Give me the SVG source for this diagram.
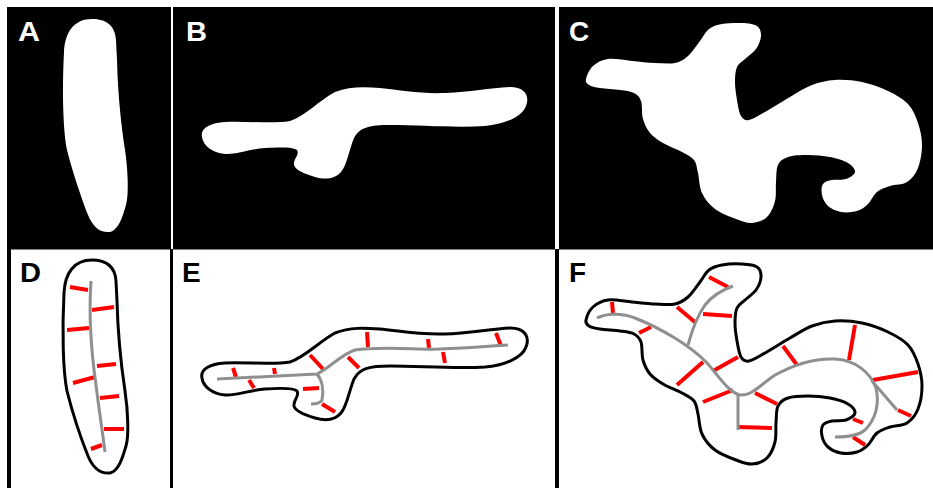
<svg xmlns="http://www.w3.org/2000/svg" xmlns:xlink="http://www.w3.org/1999/xlink" width="933" height="488" viewBox="0 0 933 488">
<style>
.bg{fill:#000}
.lbl{font-family:"Liberation Sans",Arial,sans-serif;font-weight:bold;font-size:28px}
.w{fill:#fff}
.k{fill:#000}
.blob{fill:#fff}
.outl{fill:#fff;stroke:#000;stroke-width:3;stroke-linejoin:round}
.red line{stroke:#ff0000;stroke-width:4}
.skel{fill:none;stroke:#8f8f8f;stroke-width:3;stroke-linecap:butt;stroke-linejoin:round}
</style>
<defs>
<path id="shA" d="M 92,19 C 106,19 115,25 116,40 L 117,60 C 118,100 122,130 125,150 C 128,170 129,195 126,205 C 123,215 119,230 110,232 C 100,233 93,227 88,215 C 82,200 72,170 67,150 C 63,130 62,90 64,52 C 65,32 74,19 92,19 Z"/>
<path id="shB" d="M 202,137 C 200,128 210,123 225,122 C 245,121 275,124 290,121 C 305,116 320,100 335,92 C 350,86 365,87 380,88 C 400,90 420,94 445,93 C 470,92 490,88 510,87 C 525,87 530,96 526,106 C 522,117 505,124 485,126 C 455,128 420,125 390,125 C 370,125 360,127 354,138 C 349,150 347,165 341,172 C 335,179 325,180 315,177 C 305,174 295,170 294,165 C 293,159 300,155 297,150 C 294,147 280,147 265,148 C 250,149 235,155 225,154 C 212,153 203,145 202,137 Z"/>
<path id="shC" d="M 586,79 C 586.7,75.8 589.3,69.3 593,66 S 601.5,59.8 608,59 S 624.2,60.3 632,61 S 647.8,62.7 655,63 S 669.5,64.2 675,63 S 683.8,59.7 688,56 S 696.5,45.5 700,41 S 705.3,31.8 709,29 S 716.5,25 722,24 S 736.2,22.7 742,23 S 753.8,23.8 757,26 S 761.2,32.2 761,36 S 758.7,45.2 756,49 S 748.2,56 745,59 S 738.7,63.2 737,67 S 735,76.5 735,82 S 736,94.3 737,100 S 739,112.7 741,116 S 745,120.7 749,120 S 758.2,115.8 765,112 S 782.2,101.5 790,97 S 804.5,87.8 812,85 S 826.7,80.5 835,80 S 853.2,80.2 862,82 S 880.3,87.3 888,91 S 903,98.7 908,104 S 915.7,116.2 918,123 S 922,137.5 922,145 S 920.5,161.8 918,168 S 911.7,179 907,182 S 895,184.3 890,186 S 880.7,189 877,192 S 871.3,200.8 868,204 S 861.5,209.7 857,211 S 845.8,212.8 841,212 S 831.2,208.8 828,206 S 822.8,198.7 822,195 S 821.3,186.5 823,184 S 828.2,180.8 832,180 S 842.2,180.3 846,179 S 854.7,174.7 855,172 S 852.2,165.5 848,163 S 836.7,158.3 830,157 S 815,155 808,155 S 793,155.3 788,157 S 780,160.8 778,165 S 776.5,176 776,182 S 776.5,195.2 775,201 S 770.8,213.3 767,217 S 757.2,222.7 752,223 S 742.2,221.3 736,219 S 720.7,213.3 715,209 S 704.8,199 702,193 S 699.3,178.5 698,173 S 696.7,163.5 694,160 S 687.2,154.8 682,152 S 668.3,146.2 663,143 S 653.3,137 650,133 S 644.5,124.3 643,119 S 642.5,105.3 641,101 S 637.5,94.8 634,93 S 625.7,90.8 620,90 S 605.2,88.8 600,88 S 591.3,86.5 589,85 S 585.3,82.2 586,79 Z"/>
</defs>
<rect x="0" y="0" width="933" height="488" fill="#fff"/>

<g id="panel-A">
<rect class="bg" x="7" y="7" width="164" height="242.5"/>
<use xlink:href="#shA" href="#shA" class="blob"/>
<text class="lbl w" x="18" y="41" textLength="22" lengthAdjust="spacingAndGlyphs">A</text>
</g>

<g id="panel-B">
<rect class="bg" x="173" y="7" width="382" height="242.5"/>
<use xlink:href="#shB" href="#shB" class="blob"/>
<text class="lbl w" x="186" y="41" textLength="21" lengthAdjust="spacingAndGlyphs">B</text>
</g>

<g id="panel-C">
<rect class="bg" x="559" y="7" width="374" height="242.5"/>
<use xlink:href="#shC" href="#shC" class="blob"/>
<text class="lbl w" x="569" y="41">C</text>
</g>

<g id="dividers">
<rect class="bg" x="7" y="249" width="4" height="239"/>
<rect class="bg" x="170" y="249" width="3" height="239"/>
<rect class="bg" x="555" y="249" width="4" height="239"/>
</g>

<g id="panel-D">
<use xlink:href="#shA" href="#shA" class="outl" transform="translate(0,241)"/>
<g class="red">
<line x1="70" y1="287" x2="88" y2="290"/>
<line x1="92" y1="310" x2="114" y2="307"/>
<line x1="67" y1="330" x2="89" y2="328"/>
<line x1="97" y1="366" x2="116" y2="364"/>
<line x1="73" y1="383" x2="95" y2="377"/>
<line x1="100" y1="398" x2="119" y2="396"/>
<line x1="104" y1="429" x2="124" y2="429"/>
<line x1="91" y1="449" x2="102" y2="445"/>
</g>
<path class="skel" d="M 91,281 C 89,310 91,350 96,385 C 99,410 103,435 105,452"/>
<text class="lbl k" x="20" y="282" textLength="21" lengthAdjust="spacingAndGlyphs">D</text>
</g>

<g id="panel-E">
<use xlink:href="#shB" href="#shB" class="outl" transform="translate(0,241)"/>
<g class="red">
<line x1="233" y1="368" x2="236" y2="377"/>
<line x1="249" y1="380" x2="254" y2="388"/>
<line x1="274" y1="368" x2="275" y2="374"/>
<line x1="310" y1="355" x2="323" y2="369"/>
<line x1="348" y1="357" x2="359" y2="368"/>
<line x1="367" y1="332" x2="368" y2="347"/>
<line x1="303" y1="389" x2="319" y2="388"/>
<line x1="322" y1="404" x2="335" y2="412"/>
<line x1="428" y1="339" x2="429" y2="348"/>
<line x1="443" y1="352" x2="445" y2="363"/>
<line x1="496" y1="333" x2="501" y2="346"/>
</g>
<path class="skel" d="M 217,379 C 260,377 300,375 317,374 C 330,368 340,355 355,350 C 380,346 420,350 440,349 C 470,348 490,346 508,345"/>
<path class="skel" d="M 317,374 C 322,380 324,390 322,400 C 320,404 315,404 311,404"/>
<text class="lbl k" x="182" y="282">E</text>
</g>

<g id="panel-F">
<use xlink:href="#shC" href="#shC" class="outl" transform="translate(0,241)"/>
<g class="red">
<line x1="612" y1="302" x2="613" y2="313"/>
<line x1="639" y1="333" x2="651" y2="327"/>
<line x1="677" y1="307" x2="696" y2="323"/>
<line x1="709" y1="277" x2="728" y2="287"/>
<line x1="703" y1="314" x2="732" y2="316"/>
<line x1="677" y1="385" x2="703" y2="362"/>
<line x1="713" y1="371" x2="738" y2="357"/>
<line x1="703" y1="402" x2="733" y2="390"/>
<line x1="755" y1="393" x2="777" y2="404"/>
<line x1="738" y1="427" x2="772" y2="428"/>
<line x1="783" y1="346" x2="797" y2="365"/>
<line x1="855" y1="325" x2="849" y2="360"/>
<line x1="873" y1="380" x2="918" y2="372"/>
<line x1="898" y1="410" x2="911" y2="416"/>
<line x1="853" y1="419" x2="863" y2="423"/>
<line x1="853" y1="437" x2="865" y2="445"/>
</g>
<path class="skel" d="M 597,318 C 605,314 620,312 635,318 C 660,328 690,345 707,363 C 718,375 728,392 740,395 C 752,396 760,385 775,375 C 795,364 815,358 835,359 C 855,360 870,372 876,388 C 880,405 875,420 865,430 C 858,436 848,437 835,437"/>
<path class="skel" d="M 688,345 C 692,330 698,315 705,305 C 712,296 722,290 733,286"/>
<path class="skel" d="M 872,381 L 897,410"/>
<path class="skel" d="M 738,394 L 738,430"/>
<text class="lbl k" x="569" y="282">F</text>
</g>
</svg>
